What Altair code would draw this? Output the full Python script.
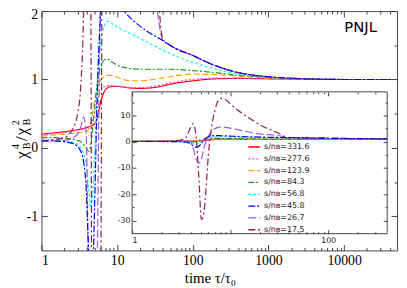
import altair as alt
import pandas as pd

# ---------------- data ----------------
TIME = [1, 1.5, 2, 2.5, 3, 3.3, 3.6, 3.9, 4.2, 4.5, 4.8, 5.1, 5.4, 5.7, 6, 6.5, 7, 7.5, 8, 9, 10,
        12, 15, 20, 30, 40, 50, 100, 200, 400, 1000, 3000, 10000, 50000]

SN_331_6 = [0.20, 0.22, 0.235, 0.25, 0.265, 0.275, 0.285, 0.295, 0.305, 0.32, 0.335, 0.36, 0.42, 0.53, 0.65, 0.78, 0.85,
            0.88, 0.895, 0.90, 0.90, 0.89, 0.875, 0.87, 0.88, 0.905, 0.93, 0.98, 1.01, 1.015, 1.01, 1.0, 1.0, 1.0]
SN_277_6 = [0.19, 0.21, 0.225, 0.24, 0.255, 0.265, 0.275, 0.29, 0.31, 0.35, 0.42, 0.53, 0.65, 0.75, 0.82, 0.88, 0.90,
            0.91, 0.91, 0.905, 0.90, 0.89, 0.88, 0.88, 0.90, 0.925, 0.95, 1.0, 1.02, 1.02, 1.01, 1.0, 1.0, 1.0]
SN_123_9 = [0.17, 0.19, 0.20, 0.21, 0.22, 0.225, 0.23, 0.24, 0.28, 0.38, 0.55, 0.72, 0.85, 0.93, 0.98, 1.03, 1.05,
            1.06, 1.06, 1.05, 1.03, 1.0, 0.98, 0.98, 1.0, 1.02, 1.04, 1.08, 1.07, 1.05, 1.02, 1.0, 1.0, 1.0]
SN_84_3 = [0.15, 0.15, 0.14, 0.13, 0.11, 0.09, 0.05, 0.0, -0.05, 0.05, 0.35, 0.65, 0.90, 1.07, 1.17, 1.26, 1.30,
           1.30, 1.28, 1.24, 1.21, 1.18, 1.16, 1.15, 1.15, 1.15, 1.15, 1.13, 1.10, 1.06, 1.03, 1.01, 1.0, 1.0]
SN_56_8 = [0.12, 0.12, 0.11, 0.09, 0.05, 0.0, -0.08, -0.25, -0.6, -0.88, -0.6, 0.05, 0.75, 1.2, 1.5, 1.72, 1.82,
           1.85, 1.84, 1.80, 1.77, 1.72, 1.67, 1.60, 1.50, 1.43, 1.38, 1.25, 1.15, 1.08, 1.03, 1.01, 1.0, 1.0]
SN_45_8 = [0.10, 0.10, 0.09, 0.07, 0.02, -0.05, -0.2, -0.6, -1.5, -2.1, -1.7, -0.6, 0.6, 1.4, 1.9, 2.25, 2.35,
           2.35, 2.30, 2.22, 2.15, 2.02, 1.90, 1.78, 1.65, 1.57, 1.50, 1.35, 1.20, 1.10, 1.04, 1.01, 1.0, 1.0]
SN_26_7 = [0.10, 0.10, 0.11, 0.14, 0.2, 0.3, 0.45, 0.2, -2.5, -6.5, -8.1, -6.5, -2.5, 0.3, 2.2, 4.0, 5.0,
           5.5, 5.6, 5.5, 5.2, 4.6, 3.8, 3.0, 2.4, 1.58, 1.50, 1.35, 1.20, 1.10, 1.04, 1.01, 1.0, 1.0]
SN_17_5 = [0.10, 0.12, 0.15, 0.25, 0.5, 0.9, 2.0, 5.0, 6.9, 2.0, -14.0, -29.6, -27.0, -17.0, -5.0, 6.0, 12.0,
           15.5, 16.5, 16.0, 14.5, 12.0, 9.5, 6.5, 3.5, 1.6, 1.50, 1.35, 1.20, 1.10, 1.04, 1.01, 1.0, 1.0]

SERIES = ["s/n\u0299=331.6", "s/n\u0299=277.6", "s/n\u0299=123.9", "s/n\u0299=84.3",
          "s/n\u0299=56.8", "s/n\u0299=45.8", "s/n\u0299=26.7", "s/n\u0299=17.5"]
VALUES = [SN_331_6, SN_277_6, SN_123_9, SN_84_3, SN_56_8, SN_45_8, SN_26_7, SN_17_5]
COLORS = ["#ff0000", "#ff44ff", "#ffa500", "#229922", "#22eeee", "#0000ee", "#9a5ce0", "#8b1c5c"]
DASHES = [[1, 0], [2, 2], [6, 3], [6, 2, 2, 2], [3, 2], [7, 2, 2, 2], [8, 3], [7, 3, 2, 3]]
DRAW_ORDER = [0, 1, 2, 3, 4, 6, 7, 5]   # blue drawn last, on top

X_MAJOR = [1, 10, 100, 1000, 10000]
X_MINOR = [d * k for d in [1, 10, 100, 1000, 10000] for k in range(2, 10) if d * k < 50000]
Y_MAJOR = [-1, 0, 1, 2]
Y_MINOR = [-0.5, 0.5, 1.5]
IX_MAJOR = [1, 10, 100]
IX_MINOR = [d * k for d in [1, 10, 100] for k in range(2, 10) if d * k < 400]
IY_MAJOR = [-30, -20, -10, 0, 10]
IY_MINOR = [-25, -15, -5, 5, 15]
PANEL_LABEL = ["PNJL"]
X_TITLE = "time \u03c4/\u03c4\u2080"
Y_TITLE_PARTS = ["\u03c7", "4", "B", "/", "\u03c7", "2", "B"]

rows = []
for i in DRAW_ORDER:
    for t, v in zip(TIME, VALUES[i]):
        rows.append({"t": t, "v": v, "s": SERIES[i]})
df = pd.DataFrame(rows)
df_in = df[df["t"] <= 400]

# ---------------- layout ----------------
W, H = 361, 243
IX0, IX1, IY0, IY1 = 92, 351, 82, 226
AXC = "#444444"
SERIF = "Liberation Serif"
SANS = "DejaVu Sans"

xs_main = alt.Scale(type="log", domain=[1, 50000], nice=False)
ys_main = alt.Scale(domain=[-1.5, 2], nice=False, zero=False)
xs_in = alt.Scale(type="log", domain=[1, 400], range=[IX0, IX1], nice=False)
ys_in = alt.Scale(domain=[-35, 19], range=[IY1, IY0], nice=False, zero=False)

NEG = "datum.value < 0 ? '-' + abs(datum.value) : '' + datum.value"


def ax(orient, values, ts, offset, **kw):
    base = dict(orient=orient, values=values, tickSize=ts, offset=offset, domain=False, grid=False,
                ticks=True, tickColor=AXC, tickWidth=1, zindex=1)
    if "labels" not in kw:
        base["labels"] = False
    base.update(kw)
    return alt.Axis(**base)


color = alt.Color("s:N", scale=alt.Scale(domain=SERIES, range=COLORS),
                  legend=alt.Legend(orient="none", legendX=209, legendY=131, title=None,
                                    symbolType="stroke", symbolSize=144, symbolStrokeWidth=1.3,
                                    rowPadding=1, labelFont=SANS, labelFontSize=8, labelOffset=3,
                                    padding=0, labelColor="#222"))
dash = alt.StrokeDash("s:N", scale=alt.Scale(domain=SERIES, range=DASHES), legend=None)

layers = []

# main curves
layers.append(
    alt.Chart(df).mark_line(clip=True, strokeWidth=1.2, interpolate="monotone").encode(
        x=alt.X("t:Q", scale=xs_main,
                axis=ax("bottom", X_MAJOR, 6, -6, labels=True, labelFont=SERIF, labelFontSize=14,
                        labelPadding=3, labelColor="black", labelExpr="'' + datum.value",
                        title=X_TITLE, titleFont=SERIF,
                        titleFontSize=15, titleFontWeight="normal", titlePadding=4, titleX=171,
                        titleColor="black")),
        y=alt.Y("v:Q", scale=ys_main, title=None,
                axis=ax("left", Y_MAJOR, 6, -6, labels=True, labelFont=SERIF, labelFontSize=14,
                        labelPadding=4, labelColor="black", labelExpr=NEG,
                        labelOffset={"condition": {"test": "datum.value == 2", "value": 4}, "value": 0})),
        color=color, strokeDash=dash, order="t:Q"))


def ghost(data, xs, ys, xax, yax):
    return alt.Chart(data).mark_point(opacity=0, clip=True).encode(
        x=alt.X("t:Q", scale=xs, axis=xax, title=None),
        y=alt.Y("v:Q", scale=ys, axis=yax, title=None))


layers.append(ghost(df, xs_main, ys_main, ax("bottom", X_MINOR, 3, -3), ax("left", Y_MINOR, 3, -3)))
layers.append(ghost(df, xs_main, ys_main, ax("top", X_MAJOR, 6, -6), ax("right", Y_MAJOR, 6, -6)))
layers.append(ghost(df, xs_main, ys_main, ax("top", X_MINOR, 3, -3), ax("right", Y_MINOR, 3, -3)))

# panel label
layers.append(alt.Chart(pd.DataFrame({"s": PANEL_LABEL})).mark_text(
    font=SANS, fontSize=15, align="center", baseline="alphabetic", color="black").encode(
    text="s:N", x=alt.value(324), y=alt.value(21)))

# y title glyphs (rotated)
TITLE_POS = [(-15, 150, 17), (-23, 140, 10), (-12, 140, 10), (-15, 132, 17),
             (-15, 126, 17), (-23, 116, 10), (-12, 116, 10)]
for part, (px, py, fs) in zip(Y_TITLE_PARTS, TITLE_POS):
    layers.append(alt.Chart(pd.DataFrame({"s": [part]})).mark_text(
        font=SERIF, fontSize=fs, angle=270, align="left", baseline="alphabetic", color="black").encode(
        text="s:N", x=alt.value(px), y=alt.value(py)))

# inset background
layers.append(alt.Chart(pd.DataFrame({"s": [0]})).mark_rect(
    fill="white", stroke=AXC, strokeWidth=1).encode(
    x=alt.value(IX0), x2=alt.value(IX1), y=alt.value(IY0), y2=alt.value(IY1)))

# inset curves
IB = H - IY1  # distance of inset bottom from plot bottom
IR = W - IX1
layers.append(
    alt.Chart(df_in).mark_line(strokeWidth=1.2, interpolate="monotone").encode(
        x=alt.X("t:Q", scale=xs_in, title=None,
                axis=ax("bottom", IX_MAJOR, 4, -(IB + 4), labels=True, labelFont=SANS, labelFontSize=8,
                        labelPadding=3, labelColor="#222",
                        labelExpr="datum.value == 10 ? '' : '' + datum.value")),
        y=alt.Y("v:Q", scale=ys_in, title=None,
                axis=ax("left", IY_MAJOR, 4, -(IX0 + 4), labels=True, labelFont=SANS, labelFontSize=8,
                        labelPadding=2, labelColor="#222", labelExpr=NEG)),
        color=color, strokeDash=dash, order="t:Q"))

layers.append(ghost(df_in, xs_in, ys_in, ax("bottom", IX_MINOR, 2, -(IB + 2)), ax("left", IY_MINOR, 2, -(IX0 + 2))))
layers.append(ghost(df_in, xs_in, ys_in, ax("top", IX_MAJOR, 4, -(IY0 + 4)), ax("right", IY_MAJOR, 4, -(IR + 4))))
layers.append(ghost(df_in, xs_in, ys_in, ax("top", IX_MINOR, 2, -(IY0 + 2)), ax("right", IY_MINOR, 2, -(IR + 2))))

chart = alt.layer(*layers).resolve_scale(x="independent", y="independent").properties(
    width=W, height=H,
    padding={"left": 34, "top": 1, "right": 2, "bottom": 36},
    autosize=alt.AutoSizeParams(type="none"),
).configure_view(stroke=AXC, strokeWidth=1)

chart.save("out.html", embed_options={"renderer": "svg", "actions": False})
